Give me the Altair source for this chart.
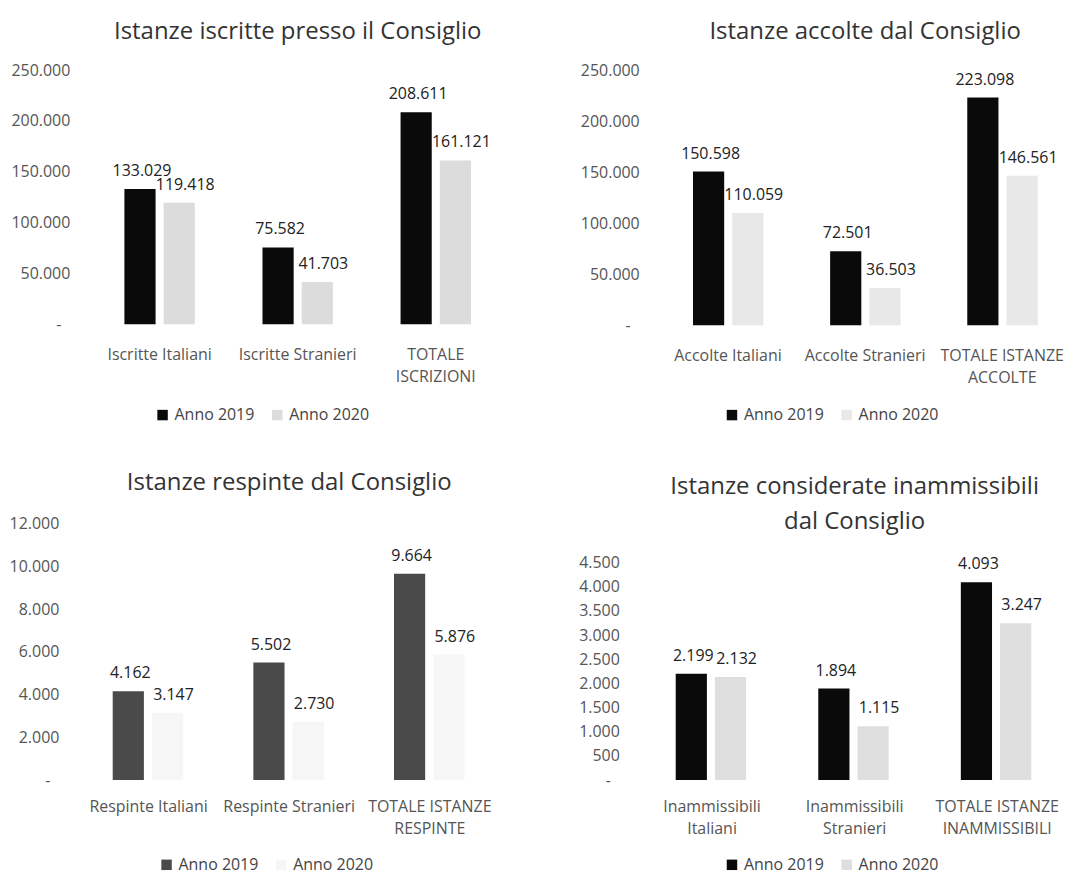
import altair as alt
import pandas as pd

YEARS = ["Anno 2019", "Anno 2020"]

# Panel 1
cats1 = ["Iscritte Italiani", "Iscritte Stranieri", "TOTALE\nISCRIZIONI"]
v2019_1 = [133029, 75582, 208611]
v2020_1 = [119418, 41703, 161121]
# Panel 2
cats2 = ["Accolte Italiani", "Accolte Stranieri", "TOTALE ISTANZE\nACCOLTE"]
v2019_2 = [150598, 72501, 223098]
v2020_2 = [110059, 36503, 146561]
# Panel 3
cats3 = ["Respinte Italiani", "Respinte Stranieri", "TOTALE ISTANZE\nRESPINTE"]
v2019_3 = [4162, 5502, 9664]
v2020_3 = [3147, 2730, 5876]
# Panel 4
cats4 = ["Inammissibili\nItaliani", "Inammissibili\nStranieri", "TOTALE ISTANZE\nINAMMISSIBILI"]
v2019_4 = [2199, 1894, 4093]
v2020_4 = [2132, 1115, 3247]

FONT = "Open Sans"
YLABEL = ("datum.value == 0 ? '-' : "
          "replace(format(datum.value, ','), regexp(',', 'g'), '.')")


def panel(title, cats, v19, v20, ymax, ystep, w, h, po, ylp, xlp,
          c19, c20, lx, ly, toff):
    df = pd.DataFrame({
        "cat": cats + cats,
        "year": [YEARS[0]] * len(cats) + [YEARS[1]] * len(cats),
        "value": v19 + v20,
    })
    df["label"] = [f"{v:,}".replace(",", ".") for v in df["value"]]
    x = alt.X("cat:N", sort=cats, title=None,
              scale=alt.Scale(paddingInner=0.49, paddingOuter=po),
              axis=alt.Axis(labelExpr="split(datum.label, '\\n')", labelAngle=0,
                            domain=False, ticks=False, labelPadding=xlp,
                            labelFontSize=16, labelColor="#555555",
                            labelLineHeight=22, labelFont=FONT, labelLimit=300))
    xo = alt.XOffset("year:N", sort=YEARS,
                     scale=alt.Scale(paddingInner=0.205, paddingOuter=0))
    y = alt.Y("value:Q", title=None,
              scale=alt.Scale(domain=[0, ymax], nice=False),
              axis=alt.Axis(values=list(range(0, ymax + 1, ystep)), labelExpr=YLABEL,
                            domain=False, ticks=False, grid=False,
                            labelPadding={"condition": {"test": "datum.value == 0",
                                                        "value": ylp + 9},
                                          "value": ylp},
                            labelFontSize=16, labelColor="#555555", labelFont=FONT))
    base = alt.Chart(df)
    bars = base.mark_bar().encode(
        x=x, xOffset=xo, y=y,
        color=alt.Color("year:N", sort=YEARS,
                        scale=alt.Scale(domain=YEARS, range=[c19, c20]),
                        legend=alt.Legend(orient="none", legendX=lx, legendY=ly,
                                          direction="horizontal", title=None,
                                          symbolType="square", symbolSize=110,
                                          symbolStrokeWidth=0,
                                          labelFontSize=16, labelColor="#444444",
                                          labelFont=FONT, columnPadding=14,
                                          labelOffset=4, padding=0)),
    )
    t19 = base.transform_filter(alt.datum.year == YEARS[0]).mark_text(
        baseline="middle", dy=-18, dx=2, fontSize=16, color="#222222", font=FONT
    ).encode(x=x, xOffset=xo, y=y, text="label:N")
    t20 = base.transform_filter(alt.datum.year == YEARS[1]).mark_text(
        baseline="middle", dy=-18, dx=6, fontSize=16, color="#222222", font=FONT
    ).encode(x=x, xOffset=xo, y=y, text="label:N")
    return alt.layer(bars, t19, t20).properties(
        width=w, height=h,
        title=alt.TitleParams(text=title, fontSize=24, font=FONT, fontWeight="normal",
                              color="#333333", anchor="middle", offset=toff,
                              lineHeight=35),
    )


p1 = panel("Istanze iscritte presso il Consiglio", cats1, v2019_1, v2020_1,
           250000, 50000, 437, 255, 0.323, 10, 22, "#0a0a0a", "#dcdcdc", 75, 338, 18)
p2 = panel("Istanze accolte dal Consiglio", cats2, v2019_2, v2020_2,
           250000, 50000, 431, 256, 0.312, 11, 22, "#0a0a0a", "#e8e8e8", 74, 338, 18)
p3 = panel("Istanze respinte dal Consiglio", cats3, v2019_3, v2020_3,
           12000, 2000, 420, 257, 0.234, 21, 19, "#4a4a4a", "#f6f6f6", 79, 334, 21)
p4 = panel(["Istanze considerate inammissibili", "dal Consiglio"], cats4, v2019_4, v2020_4,
           4500, 500, 410, 218, 0.179, 31, 19, "#0a0a0a", "#dedede", 74, 295, 21)

col1 = alt.vconcat(p1, p3, spacing=48).resolve_scale(color="independent", x="independent", y="independent")
col2 = alt.vconcat(p2, p4, spacing=52).resolve_scale(color="independent", x="independent", y="independent")

chart = alt.hconcat(col1, col2, spacing=63).resolve_scale(
    color="independent", x="independent", y="independent"
).properties(
    padding={"left": 1, "top": 11, "right": 0, "bottom": 0}
).configure(font=FONT).configure_view(stroke=None)

chart.save("out.html", embed_options={"renderer": "svg", "actions": False})
